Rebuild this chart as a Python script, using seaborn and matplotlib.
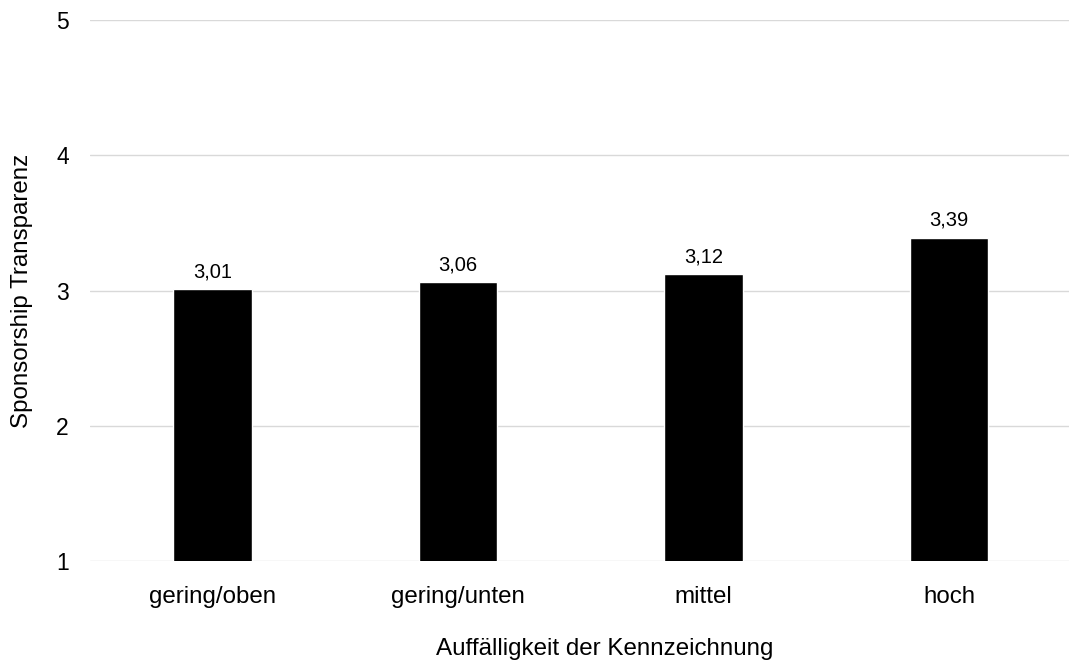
import matplotlib
matplotlib.use("Agg")
import matplotlib.pyplot as plt
import seaborn as sns
import pandas as pd

categories = ["gering/oben", "gering/unten", "mittel", "hoch"]
values = [3.01, 3.06, 3.12, 3.39]
value_labels = ["3,01", "3,06", "3,12", "3,39"]
y_ticks = [1, 2, 3, 4, 5]

sns.set_theme(style="white")
plt.rcParams["font.family"] = ["Liberation Sans", "DejaVu Sans"]

df = pd.DataFrame({"kat": categories, "wert": values})

W, H = 1069, 661
fig = plt.figure(figsize=(W / 100, H / 100), dpi=100)
ax = fig.add_axes([89.75 / W, 100 / H, 982 / W, 541 / H])

sns.barplot(data=df, x="kat", y="wert", color="black", width=0.32,
            saturation=1, ax=ax, zorder=3)

ax.set_ylim(1, 5)
ax.set_yticks(y_ticks)
ax.set_yticklabels([str(t) for t in y_ticks])
ax.yaxis.grid(True, color="#d9d9d9", linewidth=1.0, zorder=0)
ax.set_axisbelow(True)
for s in ax.spines.values():
    s.set_visible(False)
ax.tick_params(axis="x", length=0, labelsize=17.4, colors="#000000", pad=18)
ax.tick_params(axis="y", length=0, labelsize=16.5, colors="#000000", pad=15)

for i, (v, lab) in enumerate(zip(values, value_labels)):
    ax.annotate(lab, xy=(i, v), xytext=(0, 8.6), textcoords="offset points",
                ha="center", va="baseline", fontsize=14.5, color="#000000")

ax.set_xlabel("Auffälligkeit der Kennzeichnung", fontsize=17.4, color="#000000")
ax.xaxis.label.set_va("baseline")
ax.xaxis.set_label_coords((604.5 - 89.75) / 982, (561 - 655) / 541)

ax.set_ylabel("Sponsorship Transparenz", fontsize=17.4, color="#000000")
ax.yaxis.label.set_va("center")
ax.yaxis.set_label_coords((22 - 89.75) / 982, 0.5)

fig.savefig("out.png", dpi=100)
